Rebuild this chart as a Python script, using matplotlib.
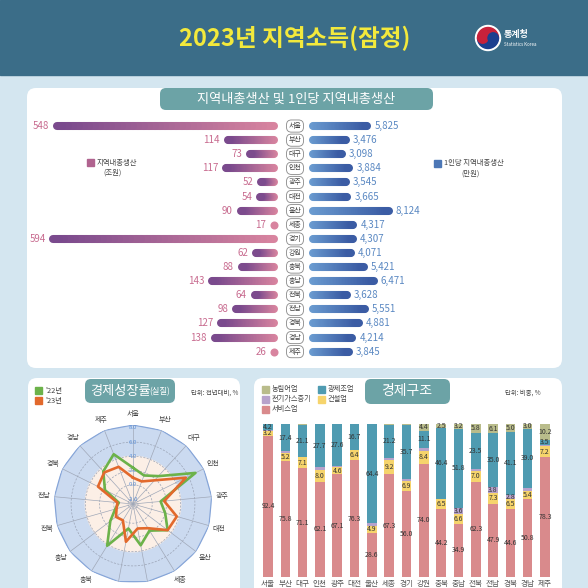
import numpy as np
import matplotlib.pyplot as plt
from matplotlib.collections import LineCollection
from matplotlib.colors import LinearSegmentedColormap
from matplotlib.patches import FancyBboxPatch, Rectangle, Circle, Wedge
import matplotlib.transforms as mtransforms

plt.rcParams['font.family'] = ['Noto Sans CJK KR', 'DejaVu Sans']

# ---- data ----
regions = ['서울', '부산', '대구', '인천', '광주', '대전', '울산', '세종', '경기',
           '강원', '충북', '충남', '전북', '전남', '경북', '경남', '제주']

# 지역내총생산 (조원), 1인당 지역내총생산 (만원)
grdp = [548, 114, 73, 117, 52, 54, 90, 17, 594, 62, 88, 143, 64, 98, 127, 138, 26]
grdp_pc = [5825, 3476, 3098, 3884, 3545, 3665, 8124, 4317, 4307, 4071, 5421,
           6471, 3628, 5551, 4881, 4214, 3845]

# 경제성장률 (실질, 전년대비 %)
growth_22 = [2.4, 1.6, 2.6, 7.1, 1.2, 2.0, 3.4, 1.7, 3.2, 0.8, 4.2, 1.3, -0.1, -0.7, 1.7, 3.5, 4.8]
growth_23 = [1.0, 0.7, 1.8, 5.6, 1.7, 3.7, 3.4, 1.3, 0.8, 2.7, 0.0, 0.3, -0.3, -0.5, 2.8, 3.3, 2.9]

# 경제구조 (비중 %)
service = [92.4, 75.8, 71.1, 62.1, 67.1, 76.3, 28.6, 67.3, 56.0, 74.0, 44.2, 34.9, 62.3, 47.9, 44.6, 50.8, 78.3]
construction = [3.2, 5.2, 7.1, 8.0, 4.6, 6.4, 4.9, 9.2, 6.9, 8.4, 6.5, 6.6, 7.0, 7.3, 6.5, 5.4, 7.2]
utility = [0.2, 1.3, 0.3, 1.9, 0.6, 0.5, 1.8, 1.5, 0.9, 2.1, 0.4, 3.6, 1.4, 3.8, 2.8, 1.8, 0.8]
manufacturing = [4.2, 17.4, 21.1, 27.7, 27.6, 16.7, 64.4, 21.2, 35.7, 11.1, 46.4, 51.8, 23.5, 35.0, 41.1, 39.0, 3.5]
agriculture = [0.0, 0.3, 0.4, 0.3, 0.1, 0.1, 0.3, 0.8, 0.5, 4.4, 2.5, 3.2, 5.8, 6.1, 5.0, 3.0, 10.2]

W = H = 588
fig = plt.figure(figsize=(5.88, 5.88), dpi=100)
fig.patch.set_facecolor('#d4e6f0')


def frac(x0, y0, x1, y1):
    return [x0 / W, 1 - y1 / H, (x1 - x0) / W, (y1 - y0) / H]


# background layer in pixel coordinates
bg = fig.add_axes([0, 0, 1, 1])
bg.set_xlim(0, W)
bg.set_ylim(H, 0)
bg.axis('off')

bg.add_patch(Rectangle((0, 0), W, 75, color='#3b6d88'))
bg.text(295, 38, '2023년 지역소득(잠정)', color='#f3e93c', fontsize=17,
        fontweight='bold', ha='center', va='center')

# logo
cx, cy = 488, 38
bg.add_patch(Circle((cx, cy), 12.5, color='white'))
bg.add_patch(Wedge((cx, cy), 10.5, 180, 360, color='#c8213a'))
bg.add_patch(Wedge((cx, cy), 10.5, 0, 180, color='#1b3f8f'))
bg.add_patch(Circle((cx - 5.2, cy), 5.2, color='#c8213a'))
bg.add_patch(Circle((cx + 5.2, cy), 5.2, color='#1b3f8f'))
bg.text(504, 35, '통계청', color='white', fontsize=6.5, fontweight='bold', va='center')
bg.text(504, 45, 'Statistics Korea', color='white', fontsize=3.2, va='center')

# panels
for (x0, y0, w, h) in [(27, 88, 535, 280), (28, 378, 212, 240), (254, 378, 308, 240)]:
    bg.add_patch(FancyBboxPatch((x0, y0), w, h, boxstyle='round,pad=0,rounding_size=9',
                                fc='white', ec='none'))
tab = '#6ca3a6'
bg.add_patch(FancyBboxPatch((160, 88), 273, 22, boxstyle='round,pad=0,rounding_size=6', fc=tab, ec='none'))
bg.text(296, 99.5, '지역내총생산 및 1인당 지역내총생산', color='white', fontsize=9.5,
        ha='center', va='center')
bg.add_patch(FancyBboxPatch((85, 379), 90, 24, boxstyle='round,pad=0,rounding_size=6', fc=tab, ec='none'))
bg.text(121, 391, '경제성장률', color='white', fontsize=9.5, ha='center', va='center')
bg.text(160, 392, '(실질)', color='white', fontsize=6, ha='center', va='center')
bg.text(191, 393, '단위: 전년대비, %', color='#444', fontsize=4.6, va='center')
bg.add_patch(FancyBboxPatch((365, 379), 85, 25, boxstyle='round,pad=0,rounding_size=6', fc=tab, ec='none'))
bg.text(407, 391.5, '경제구조', color='white', fontsize=10, ha='center', va='center')
bg.text(505, 393, '단위: 비중, %', color='#444', fontsize=4.6, va='center')

# ---- top: 지역내총생산 & 1인당 ----
row_top, row_h = 119, 14.1
y1 = row_top + row_h * len(regions)
pink_cmap = LinearSegmentedColormap.from_list('pk', ['#d8849f', '#7a4a8d'])
blue_cmap = LinearSegmentedColormap.from_list('bl', ['#6a9bd0', '#3b5ca4'])

# long bars are compressed, as in the infographic
kx = [0, 150, 548, 594, 1000]
kf = [0, 150, 430, 437, 498]


def fwd(v):
    return np.interp(v, kx, kf)


def inv(f):
    return np.interp(f, kf, kx)


grdp_start = 28

axl = fig.add_axes(frac(40, row_top, 274, y1))
axl.set_xscale('function', functions=(fwd, inv))
axl.set_xlim(756, grdp_start)
axl.set_ylim(len(regions) - 0.5, -0.5)
axl.axis('off')

axr = fig.add_axes(frac(313, row_top, 560, y1))
axr.set_xlim(0, 26400)
axr.set_ylim(len(regions) - 0.5, -0.5)
axr.axis('off')


def pill(ax, a, b, y, cmap, n=40, scale=None):
    if scale:
        t = scale[1](np.linspace(scale[0](a), scale[0](b), n + 1))
    else:
        t = np.linspace(a, b, n + 1)
    segs = [[(t[i], y), (t[i + 1], y)] for i in range(n)]
    lc = LineCollection(segs, colors=cmap(np.linspace(0, 1, n)), linewidths=5.8,
                        capstyle='round', clip_on=False)
    ax.add_collection(lc)


for i, v in enumerate(grdp):
    if v > grdp_start:
        pill(axl, grdp_start, v, i, pink_cmap, scale=(fwd, inv))
    else:
        axl.plot([grdp_start], [i], 'o', ms=5.8, color='#d8849f', mec='none', clip_on=False)
    axl.annotate(f'{v}', xy=(max(v, grdp_start), i), xytext=(-5.5, 0), textcoords='offset points',
                 ha='right', va='center', fontsize=7, color='#c86b8f', annotation_clip=False)

for i, v in enumerate(grdp_pc):
    pill(axr, 0, v, i, blue_cmap)
    axr.annotate(f'{v:,}', xy=(v, i), xytext=(5, 0), textcoords='offset points',
                 ha='left', va='center', fontsize=7, color='#5a88c2', annotation_clip=False)

tr = mtransforms.blended_transform_factory(fig.transFigure, axr.transData)
for i, r in enumerate(regions):
    axr.text(295 / W, i, r, transform=tr, ha='center', va='center', fontsize=5, color='#444',
             bbox=dict(boxstyle='round,pad=0.3,rounding_size=0.7', fc='white', ec='#888', lw=0.6))

bg.add_patch(Rectangle((87, 159), 7, 7, color='#b0638f'))
bg.text(97, 162.5, '지역내총생산', fontsize=5.3, color='#444', va='center')
bg.text(113, 173, '(조원)', fontsize=5.3, color='#444', va='center', ha='center')
bg.add_patch(Rectangle((434, 160), 7, 7, color='#4c77b6'))
bg.text(444, 163.5, '1인당 지역내총생산', fontsize=5.3, color='#444', va='center')
bg.text(471, 174, '(만원)', fontsize=5.3, color='#444', va='center', ha='center')

# ---- radar: 경제성장률 ----
c22, c23 = '#6cb24a', '#e2692c'
rmin, rmax = -2.7, 8.4
axp = fig.add_axes(frac(133 - 79, 504 - 79, 133 + 79, 504 + 79), projection='polar')
axp.set_theta_zero_location('N')
axp.set_theta_direction(-1)
axp.set_ylim(rmin, rmax)
axp.axis('off')
n = len(regions)
th = np.arange(n) * 2 * np.pi / n
thc = np.append(th, th[0])
axp.fill(thc, np.full(n + 1, rmax), color='#cbdaf0', ec='#86a5d8', lw=0.9, zorder=0)
tt = np.linspace(0, 2 * np.pi, 200)
axp.fill(tt, np.full(200, 4.0), color='#fcefe6', zorder=0.5)
for rr in [-2, 0, 2, 4, 6]:
    axp.plot(tt, np.full(200, rr), color='#9aa3b5', lw=0.5, ls=(0, (3, 2)), zorder=1)
for t in th:
    axp.plot([t, t], [rmin, rmax], color='#a0a8b8', lw=0.5, zorder=1)
for rr in [-2, 0, 2, 4, 6, 8]:
    axp.text(0, rr, f'{rr:.1f}', fontsize=4.3, color='#5b8fd6', ha='center', va='center', zorder=2)
axp.plot(thc, np.append(growth_22, growth_22[0]), color=c22, lw=1.9, zorder=3)
axp.plot(thc, np.append(growth_23, growth_23[0]), color=c23, lw=1.9, zorder=4)
for t, r in zip(th, regions):
    axp.text(t, 9.9, r, fontsize=5, color='#444', ha='center', va='center')

bg.add_patch(Rectangle((35, 387), 7, 7, color=c22))
bg.text(45, 390.5, "'22년", fontsize=5.3, color='#444', va='center')
bg.add_patch(Rectangle((35, 397), 7, 7, color=c23))
bg.text(45, 400.5, "'23년", fontsize=5.3, color='#444', va='center')

# ---- stacked bars: 경제구조 ----
cats = [('서비스업', service, '#d98a8c'), ('건설업', construction, '#f6d46c'),
        ('전기가스증기', utility, '#b7a2cb'), ('광제조업', manufacturing, '#4f9bb1'),
        ('농림어업', agriculture, '#b9bc8b')]
shown = {'서비스업': range(17), '건설업': range(17), '광제조업': range(17),
         '전기가스증기': [11, 13, 14], '농림어업': range(9, 17)}
axs = fig.add_axes(frac(257.6, 424, 555.4, 577))
x = np.arange(n)
bottom = np.zeros(n)
for name, vals, col in cats:
    vals = np.array(vals)
    axs.bar(x, vals, 0.55, bottom=bottom, color=col)
    for i in shown[name]:
        axs.text(i, bottom[i] + vals[i] / 2, f'{vals[i]:.1f}', ha='center', va='center',
                 fontsize=5, color='#333')
    bottom += vals
axs.set_xlim(-0.6, n - 0.4)
axs.set_ylim(0, 100)
axs.set_xticks(x, regions, fontsize=5.5, color='#555')
axs.tick_params(length=0, pad=2)
axs.set_yticks([])
for s in axs.spines.values():
    s.set_visible(False)
axs.patch.set_alpha(0)

legend_pos = [('농림어업', 262, 389), ('광제조업', 318, 389), ('전기가스증기', 262, 399),
              ('건설업', 318, 399), ('서비스업', 262, 409)]
colmap = {c[0]: c[2] for c in cats}
for name, lx, ly in legend_pos:
    bg.add_patch(Rectangle((lx, ly - 3.5), 7, 7, color=colmap[name]))
    bg.text(lx + 10, ly, name, fontsize=5.2, color='#444', va='center')

fig.savefig('out.png', dpi=100, facecolor=fig.get_facecolor())
